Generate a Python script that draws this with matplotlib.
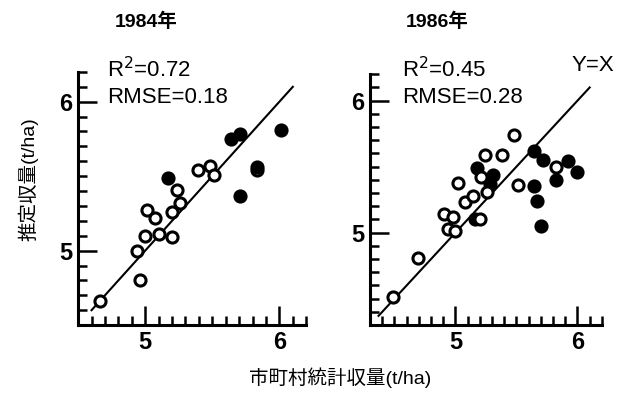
import matplotlib
matplotlib.use('Agg')
import matplotlib.pyplot as plt
from matplotlib.ticker import MultipleLocator

plt.rcParams['font.family'] = ['Liberation Sans', 'Noto Sans CJK JP']

# 1984 (open = 白丸, fill = 黒丸)
x84_open = [4.66, 4.96, 4.94, 5.00, 5.01, 5.07, 5.10, 5.20, 5.20, 5.26, 5.24, 5.39, 5.48, 5.51, 5.83]
y84_open = [4.66, 4.80, 5.00, 5.10, 5.27, 5.22, 5.11, 5.09, 5.26, 5.32, 5.41, 5.54, 5.57, 5.51, 5.54]
x84_fill = [5.17, 5.64, 5.71, 5.71, 5.83, 6.01]
y84_fill = [5.49, 5.75, 5.78, 5.37, 5.56, 5.81]

# 1986
x86_open = [4.49, 4.69, 4.91, 4.94, 5.00, 4.98, 5.02, 5.08, 5.14, 5.21, 5.20, 5.24, 5.26, 5.38, 5.48, 5.51, 5.82]
y86_open = [4.51, 4.81, 5.14, 5.03, 5.01, 5.12, 5.38, 5.23, 5.28, 5.42, 5.10, 5.59, 5.31, 5.59, 5.74, 5.36, 5.50]
x86_fill = [5.16, 5.18, 5.31, 5.28, 5.64, 5.72, 5.64, 5.67, 5.70, 5.82, 5.92, 6.00]
y86_fill = [5.10, 5.49, 5.44, 5.37, 5.62, 5.55, 5.35, 5.24, 5.05, 5.40, 5.54, 5.46]

# Y=X line ends
line84 = [4.6, 6.1]
line86 = [4.37, 6.1]

fig = plt.figure(figsize=(6.25, 3.95), dpi=100)
ax1 = fig.add_axes([0.125, 0.177, 0.365, 0.641])
ax2 = fig.add_axes([0.592, 0.177, 0.371, 0.635])


def style(ax, lo, hi):
	ax.set_xlim(lo, hi)
	ax.set_ylim(lo, hi)
	for s in ['top', 'right']:
		ax.spines[s].set_visible(False)
	for s in ['left', 'bottom']:
		ax.spines[s].set_linewidth(2.2)
	ax.xaxis.set_major_locator(MultipleLocator(1))
	ax.yaxis.set_major_locator(MultipleLocator(1))
	ax.xaxis.set_minor_locator(MultipleLocator(0.1))
	ax.yaxis.set_minor_locator(MultipleLocator(0.1))
	ax.tick_params(which='major', direction='in', length=14, width=1.8, labelsize=17, pad=4)
	ax.tick_params(which='minor', direction='in', length=6.5, width=1.8)
	for lab in ax.get_xticklabels() + ax.get_yticklabels():
		lab.set_fontweight('bold')


style(ax1, 4.5, 6.2)
style(ax2, 4.3, 6.2)

ax1.plot(line84, line84, color='black', lw=1.5, zorder=1)
ax1.plot(x84_open, y84_open, 'o', ms=8, mew=2.2, mfc='white', mec='black', zorder=2)
ax1.plot(x84_fill, y84_fill, 'o', ms=8, mew=2.2, mfc='black', mec='black', zorder=3)

ax2.plot(line86, line86, color='black', lw=1.5, zorder=1)
ax2.plot(x86_fill, y86_fill, 'o', ms=8, mew=2.2, mfc='black', mec='black', zorder=2)
ax2.plot(x86_open, y86_open, 'o', ms=8, mew=2.2, mfc='white', mec='black', zorder=3)

fig.text(0.234, 0.944, '1984年', ha='center', va='center', fontsize=14, fontweight='bold')
fig.text(0.699, 0.944, '1986年', ha='center', va='center', fontsize=14, fontweight='bold')

fig.text(0.171, 0.823, 'R$^2$=0.72', ha='left', va='center', fontsize=16)
fig.text(0.171, 0.754, 'RMSE=0.18', ha='left', va='center', fontsize=16)
fig.text(0.643, 0.823, 'R$^2$=0.45', ha='left', va='center', fontsize=16)
fig.text(0.643, 0.754, 'RMSE=0.28', ha='left', va='center', fontsize=16)
fig.text(0.915, 0.833, 'Y=X', ha='left', va='center', fontsize=16)

fig.text(0.545, 0.043, '市町村統計収量(t/ha)', ha='center', va='center', fontsize=14)
fig.text(0.045, 0.547, '推定収量(t/ha)', ha='center', va='center', rotation=90, fontsize=14)

fig.savefig('out.png', dpi=100)
